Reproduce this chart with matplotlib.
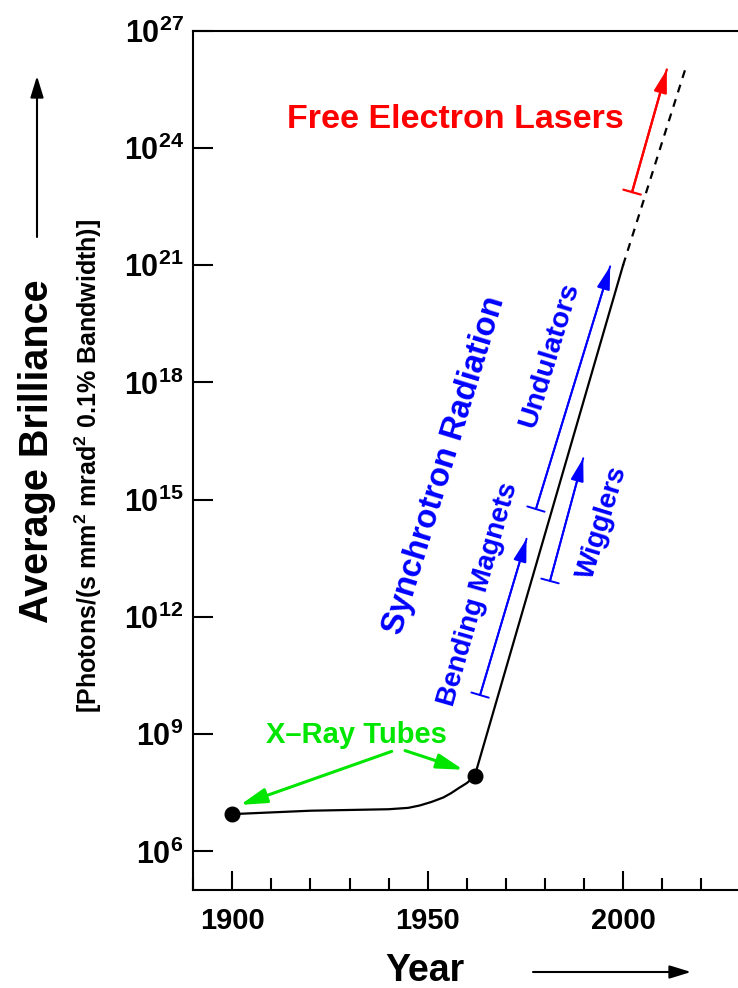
import math
import matplotlib
matplotlib.use('Agg')
import matplotlib.pyplot as plt
from matplotlib.patches import FancyArrowPatch
from matplotlib.ticker import FixedLocator, MultipleLocator, FuncFormatter

plt.rcParams['font.family'] = ['Liberation Sans', 'DejaVu Sans']
plt.rcParams['font.weight'] = 'bold'
plt.rcParams['mathtext.fontset'] = 'custom'
plt.rcParams['mathtext.rm'] = 'Liberation Sans:bold'
plt.rcParams['mathtext.bf'] = 'Liberation Sans:bold'
plt.rcParams['mathtext.default'] = 'bf'

# x-ray tube era (gentle rise, then the knee into synchrotron sources)
tube_years = [1900, 1920, 1940, 1945, 1948, 1951, 1954, 1956, 1958, 1960, 1962]
tube_brill = [9e6, 1.1e7, 1.2e7, 1.3e7, 1.5e7, 1.85e7, 2.4e7, 3.1e7, 4.2e7, 5.6e7, 8.3e7]
# synchrotron growth and projected FEL extension
sync_years = [1962, 2000]
sync_brill = [8.3e7, 1e21]
proj_years = [2000, 2016]
proj_brill = [1e21, 1.1e26]
# milestone dots
dot_years = [1900, 1962]
dot_brill = [9e6, 8.3e7]

GREEN = '#00e600'
BLUE = '#0000ff'
RED = '#ff0000'

fig = plt.figure(figsize=(7.38, 9.88), dpi=100)
ax = fig.add_axes([0.2619, 0.0987, 0.7412, 0.8702])

ax.plot(tube_years, tube_brill, color='black', lw=1.6)
ax.plot(sync_years, sync_brill, color='black', lw=1.6)
ax.plot(proj_years, proj_brill, color='black', lw=1.6, dashes=(3.6, 3.2))
ax.plot(dot_years, dot_brill, 'o', color='black', ms=10.5)

ax.set_yscale('log')
ax.set_xlim(1890, 2030)
ax.set_ylim(1e5, 1e27)

ax.xaxis.set_major_locator(MultipleLocator(50))
ax.xaxis.set_minor_locator(MultipleLocator(10))
ax.yaxis.set_major_locator(FixedLocator([10.0 ** e for e in range(6, 28, 3)]))
ax.yaxis.set_minor_locator(FixedLocator([]))
ax.yaxis.set_major_formatter(FuncFormatter(lambda v, p: r'$10^{%d}$' % round(math.log10(v))))
ax.xaxis.set_major_formatter(FuncFormatter(lambda v, p: '%d' % v))

ax.tick_params(axis='x', which='major', direction='in', length=13.7, width=1.5,
               labelsize=21, pad=12)
ax.tick_params(axis='x', which='minor', direction='in', length=8.6, width=1.5)
ax.tick_params(axis='y', which='major', direction='in', length=14.4, width=1.5,
               labelsize=22, pad=7)
for s in ['left', 'bottom', 'top']:
    ax.spines[s].set_linewidth(1.5)
ax.spines['right'].set_visible(False)


def arrow(x0, y0, x1, y1, color, lw, bar=True, hl=1.4, hw=0.4):
    ax.annotate('', xy=(x1, y1), xytext=(x0, y0),
                arrowprops=dict(arrowstyle='-|>,head_length=%g,head_width=%g' % (hl, hw),
                                color=color, lw=lw, shrinkA=0, shrinkB=0,
                                mutation_scale=10))
    if bar:
        ax.annotate('', xy=(x1, y1), xytext=(x0, y0),
                    arrowprops=dict(arrowstyle=']-,widthA=0.65,lengthA=0',
                                    color=color, lw=lw, shrinkA=0, shrinkB=0,
                                    mutation_scale=10))


# free electron lasers
arrow(2002.3, 10 ** 22.87, 2011.2, 10 ** 26.01, RED, 1.6)
ax.text(1957, 10 ** 24.51, 'Free Electron Lasers', color=RED, fontsize=24.5,
        ha='center', va='baseline')

# synchrotron sources
arrow(1963.4, 1e10, 1975.3, 1e14, BLUE, 1.4)
arrow(1977.7, 10 ** 14.76, 1996.7, 10 ** 20.97, BLUE, 1.4)
arrow(1981.3, 10 ** 12.92, 1989.8, 10 ** 16.06, BLUE, 1.4)
ax.text(1954.4, 10 ** 15.89, 'Synchrotron Radiation', color=BLUE, fontsize=23.5,
        rotation=73, ha='center', va='center', rotation_mode='anchor')
ax.text(1963.0, 10 ** 12.58, 'Bending Magnets', color=BLUE, fontsize=20,
        rotation=74, ha='center', va='center', rotation_mode='anchor')
ax.text(1981.1, 10 ** 18.71, 'Undulators', color=BLUE, fontsize=20.5,
        rotation=73, ha='center', va='center', rotation_mode='anchor')
ax.text(1994.7, 10 ** 14.41, 'Wigglers', color=BLUE, fontsize=20,
        rotation=73, ha='center', va='center', rotation_mode='anchor')

# x-ray tubes
ax.text(1931.7, 10 ** 8.77, 'X\u2013Ray Tubes', color=GREEN, fontsize=21,
        ha='center', va='baseline')
arrow(1940.8, 10 ** 8.56, 1902.0, 10 ** 7.19, GREEN, 2.2, bar=False, hl=1.6, hw=0.45)
arrow(1944.2, 10 ** 8.58, 1959.1, 10 ** 8.09, GREEN, 2.2, bar=False, hl=1.6, hw=0.45)

# axis titles and direction arrows
fig.text(48 / 738, 1 - 451.5 / 988, 'Average Brilliance', fontsize=28.5,
         rotation=90, ha='center', va='baseline', rotation_mode='anchor')
fig.text(97 / 738, 1 - 466 / 988,
         '[Photons/(s mm$^{2}$ mrad$^{2}$ 0.1% Bandwidth)]', fontsize=18,
         rotation=90, ha='center', va='baseline', rotation_mode='anchor')
fig.text(425 / 738, 1 - 981 / 988, 'Year', fontsize=27, ha='center',
         va='baseline')
fig.add_artist(FancyArrowPatch(
    (37 / 738, 1 - 237 / 988), (37 / 738, 1 - 76 / 988),
    transform=fig.transFigure, arrowstyle='-|>,head_length=1.3,head_width=0.4',
    mutation_scale=10, color='black', lw=1.5, shrinkA=0, shrinkB=0))
fig.add_artist(FancyArrowPatch(
    (533 / 738, 1 - 972 / 988), (691 / 738, 1 - 972 / 988),
    transform=fig.transFigure, arrowstyle='-|>,head_length=1.3,head_width=0.4',
    mutation_scale=10, color='black', lw=1.5, shrinkA=0, shrinkB=0))

fig.savefig('out.png', dpi=100, facecolor='white')
